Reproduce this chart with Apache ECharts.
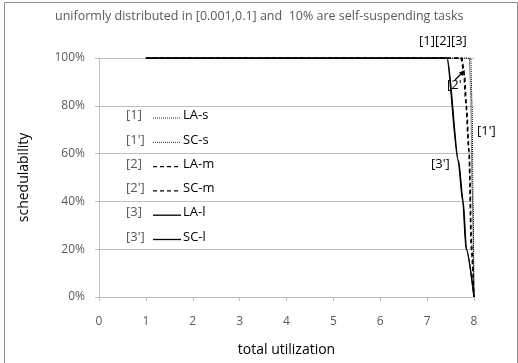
<!DOCTYPE html>
<html>
<head>
<meta charset="utf-8">
<script src="https://cdn.jsdelivr.net/npm/echarts@6/dist/echarts.min.js"></script>
<style>
  html, body { margin: 0; padding: 0; background: #fff; }
  #chart { width: 518px; height: 363px; }
</style>
</head>
<body>
<div id="chart"></div>
<script>
// total utilization (x) and schedulability in % (y)
const uLAs = [1, 7, 7.9, 7.93, 7.96, 8];
const sLAs = [100, 100, 100, 85, 45, 0];
const uSCs = [1, 7, 7.93, 7.96, 7.98, 8];
const sSCs = [100, 100, 100, 80, 40, 0];
const uLAm = [1, 7, 7.72, 7.78, 7.82, 7.89, 7.94, 8];
const sLAm = [100, 100, 100, 94, 82, 61, 20, 0];
const uSCm = [1, 7, 7.74, 7.8, 7.84, 7.9, 7.95, 8];
const sSCm = [100, 100, 100, 93, 80, 60, 22, 0];
const uLAl = [1, 7, 7.42, 7.66, 7.76, 7.83, 8];
const sLAl = [100, 100, 100, 57, 40, 20, 0];
const uSCl = [1, 7, 7.43, 7.67, 7.77, 7.84, 8];
const sSCl = [100, 100, 100, 57, 40, 20, 0];

const legendTags = ['[1]', "[1']", '[2]', "[2']", '[3]', "[3']"];
const legendNames = ['LA-s', 'SC-s', 'LA-m', 'SC-m', 'LA-l', 'SC-l'];
const legendStyles = ['dotted', 'dotted', 'dashed', 'dashed', 'solid', 'solid'];

const font = 'Open Sans, Liberation Sans, sans-serif';
const txt = '#595959';

function pairs(u, s) {
  return u.map((x, i) => [x, s[i]]);
}

function lineSeries(name, u, s, type, width) {
  return {
    name: name,
    type: 'line',
    data: pairs(u, s),
    symbol: 'none',
    smooth: 0.25,
    smoothMonotone: 'x',
    lineStyle: { color: '#000', width: width, type: type },
    z: 3
  };
}

let myChart = echarts.init(document.getElementById('chart'));

// 图例（手绘，跟原图一致）
let legendGraphics = [];
legendTags.forEach((tag, i) => {
  let y = 118 + i * 24.3;
  let t = legendStyles[i];
  legendGraphics.push({
    type: 'text', left: 126, top: y - 9,
    style: { text: tag, font: '13px ' + font, fill: txt }
  });
  legendGraphics.push({
    type: 'line',
    shape: { x1: 153, y1: y, x2: t === 'dashed' ? 178 : 181, y2: y },
    style: {
      stroke: '#000',
      lineWidth: t === 'dotted' ? 0.8 : 1.3,
      lineDash: t === 'dotted' ? [1, 1] : (t === 'dashed' ? [4, 3] : null)
    }
  });
  legendGraphics.push({
    type: 'text', left: 183, top: y - 9,
    style: { text: legendNames[i], font: '13px ' + font, fill: '#000' }
  });
});

let option = {
  animation: false,
  title: {
    text: 'uniformly distributed in [0.001,0.1] and  10% are self-suspending tasks',
    left: 50,
    top: 5,
    textStyle: { color: txt, fontSize: 12.5, fontWeight: 'normal', fontFamily: font }
  },
  grid: { left: 99, right: 44, top: 58, bottom: 66 },
  xAxis: {
    type: 'value',
    min: 0, max: 8, interval: 1,
    name: 'total utilization',
    nameLocation: 'middle',
    nameGap: 46,
    nameTextStyle: { color: '#000', fontSize: 14, fontFamily: font },
    axisLine: { show: true, lineStyle: { color: '#bfbfbf' } },
    axisTick: { show: true, length: 4, lineStyle: { color: '#bfbfbf' } },
    axisLabel: { color: txt, fontSize: 12, fontFamily: font, margin: 19 },
    splitLine: { show: false }
  },
  yAxis: {
    type: 'value',
    min: 0, max: 100, interval: 20,
    name: 'schedulability',
    nameLocation: 'middle',
    nameGap: 68,
    nameTextStyle: { color: '#000', fontSize: 14, fontFamily: font },
    axisLine: { show: true, lineStyle: { color: '#bfbfbf' } },
    axisTick: { show: true, length: 4, lineStyle: { color: '#bfbfbf' } },
    axisLabel: { color: txt, fontSize: 12, fontFamily: font, formatter: '{value}%', margin: 14 },
    splitLine: { show: true, lineStyle: { color: '#bfbfbf', width: 1 } }
  },
  series: [
    lineSeries('LA-s', uLAs, sLAs, [1, 1], 1),
    lineSeries('SC-s', uSCs, sSCs, [1, 1], 1),
    lineSeries('LA-m', uLAm, sLAm, [4, 3], 1.3),
    lineSeries('SC-m', uSCm, sSCm, [4, 3], 1.3),
    lineSeries('LA-l', uLAl, sLAl, 'solid', 1.3),
    lineSeries('SC-l', uSCl, sSCl, 'solid', 1.3)
  ],
  graphic: [
    {
      type: 'rect', left: 2, top: 0, z: -1,
      shape: { width: 513, height: 361 },
      style: { fill: 'none', stroke: '#8c8c8c', lineWidth: 1 }
    },
    { type: 'text', left: 419, top: 35, style: { text: '[1][2][3]', font: '13px ' + font, fill: '#000' } },
    { type: 'text', left: 447, top: 79, style: { text: "[2'", font: '13px ' + font, fill: '#000' } },
    { type: 'text', left: 477, top: 125, style: { text: "[1']", font: '13px ' + font, fill: '#000' } },
    { type: 'text', left: 431, top: 158, style: { text: "[3']", font: '13px ' + font, fill: '#000' } },
    {
      type: 'line',
      shape: { x1: 455, y1: 80, x2: 462, y2: 73 },
      style: { stroke: '#000', lineWidth: 1.3 }
    },
    {
      type: 'polygon',
      shape: { points: [[465, 70], [459, 72.5], [462.5, 76]] },
      style: { fill: '#000' }
    }
  ].concat(legendGraphics)
};
myChart.setOption(option);
</script>
</body>
</html>
